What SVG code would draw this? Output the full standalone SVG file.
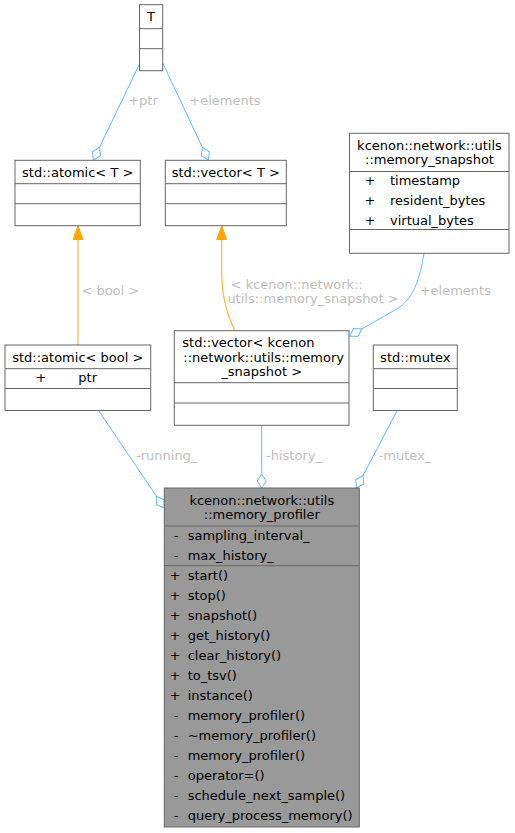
<svg xmlns="http://www.w3.org/2000/svg" width="515" height="833" viewBox="0 0 515 833">
<style>
text{font-family:"DejaVu Sans","Liberation Sans",sans-serif;font-size:13px;fill:#000}
.m{text-anchor:middle}
.lbl{fill:#bebebe;text-anchor:middle}
.box{fill:#fff;stroke:#666;stroke-width:1}
.main{fill:#999;stroke:#666;stroke-width:1}
.div{stroke:#666;stroke-width:1;fill:none}
.e{fill:none;stroke:#63b8ff;stroke-width:1}
.o{fill:none;stroke:#ffa500;stroke-width:1}
</style>
<defs>
<marker id="od" viewBox="0 0 16 11" markerWidth="16" markerHeight="11" refX="15" refY="5.5" orient="auto" markerUnits="userSpaceOnUse">
<path d="M1,5.5 L8,1 L15,5.5 L8,10 Z" fill="#fff" stroke="#63b8ff" stroke-width="1"/>
</marker>
<marker id="tri" viewBox="0 0 15 11" markerWidth="15" markerHeight="11" refX="14" refY="5.5" orient="auto" markerUnits="userSpaceOnUse">
<path d="M0.5,0.5 L14,5.5 L0.5,10.5 Z" fill="#ffa500" stroke="#ffa500" stroke-width="1"/>
</marker>
</defs>
<g id="connectors">
<path class="e" d="M139.5,64 L93.4,160" marker-end="url(#od)"/>
<path class="e" d="M162.7,63 L208.3,160" marker-end="url(#od)"/>
<path class="o" d="M78,345 L78,226" marker-end="url(#tri)"/>
<path class="o" d="M235,331 C226,312 221.7,295 221.7,270 L221.7,226" marker-end="url(#tri)"/>
<path class="e" d="M424,253 C420,280 413,297 400,307 C392,312 372,323 349.7,336" marker-end="url(#od)"/>
<path class="e" d="M99,411 L164.3,508" marker-end="url(#od)"/>
<path class="e" d="M261.7,425.3 L261.7,488" marker-end="url(#od)"/>
<path class="e" d="M397.3,410.3 L356.5,488" marker-end="url(#od)"/>
<text class="lbl" x="143" y="104.5">+ptr</text>
<text class="lbl" x="225" y="104.5">+elements</text>
<text class="lbl" x="110.3" y="295.2">&lt; bool &gt;</text>
<text class="lbl" x="296.7" y="288.5">&lt; kcenon::network::</text>
<text class="lbl" x="313" y="302.5">utils::memory_snapshot &gt;</text>
<text class="lbl" x="455.3" y="295.2">+elements</text>
<text class="lbl" x="166.7" y="460.2">-running_</text>
<text class="lbl" x="294" y="460.2">-history_</text>
<text class="lbl" x="405" y="460.2">-mutex_</text>
</g>
<g id="node-T">
<rect class="box" x="139.5" y="4.7" width="23.2" height="66"/>
<path class="div" d="M139.5,28.7 H162.7 M139.5,48.7 H162.7"/>
<text class="m" x="151.1" y="21.2">T</text>
</g>
<g id="node-atomic-T">
<rect class="box" x="15" y="160.3" width="125.3" height="65.4"/>
<path class="div" d="M15,183.7 H140.3 M15,203.7 H140.3"/>
<text class="m" x="77.7" y="177.2">std::atomic&lt; T &gt;</text>
</g>
<g id="node-vector-T">
<rect class="box" x="165.3" y="160.3" width="121" height="65.4"/>
<path class="div" d="M165.3,183.7 H286.3 M165.3,203.7 H286.3"/>
<text class="m" x="225.8" y="177.2">std::vector&lt; T &gt;</text>
</g>
<g id="node-memory-snapshot">
<rect class="box" x="349.5" y="133.3" width="159.5" height="120"/>
<path class="div" d="M349.5,171.5 H509 M349.5,229.5 H509"/>
<text class="m" x="429.5" y="149.5">kcenon::network::utils</text>
<text class="m" x="429.5" y="164">::memory_snapshot</text>
<text class="m" x="370" y="184.5">+</text><text x="390" y="184.5">timestamp</text>
<text class="m" x="370" y="204.5">+</text><text x="390" y="204.5">resident_bytes</text>
<text class="m" x="370" y="224.5">+</text><text x="390" y="224.5">virtual_bytes</text>
</g>
<g id="node-atomic-bool">
<rect class="box" x="5" y="345" width="145.7" height="65.5"/>
<path class="div" d="M5,368.7 H150.7 M5,388.5 H150.7"/>
<text class="m" x="77.8" y="361.8">std::atomic&lt; bool &gt;</text>
<text class="m" x="41" y="382.2">+</text><text x="78.3" y="382.2">ptr</text>
</g>
<g id="node-vector-snapshot">
<rect class="box" x="174.3" y="330.7" width="174.7" height="94.6"/>
<path class="div" d="M174.3,382.7 H349 M174.3,403 H349"/>
<text x="182.3" y="347.2">std::vector&lt; kcenon</text>
<text x="183.3" y="361.8">::network::utils::memory</text>
<text class="m" x="261.7" y="376.4">_snapshot &gt;</text>
</g>
<g id="node-mutex">
<rect class="box" x="373.3" y="345" width="84" height="65.5"/>
<path class="div" d="M373.3,368.7 H457.3 M373.3,388.5 H457.3"/>
<text class="m" x="415.3" y="361.8">std::mutex</text>
</g>
<g id="node-memory-profiler">
<rect class="main" x="164.3" y="488" width="195" height="339"/>
<path class="div" d="M164.3,526 H359.3 M164.3,565.7 H359.3"/>
<text class="m" x="261.8" y="504.5">kcenon::network::utils</text>
<text class="m" x="261.8" y="518.8">::memory_profiler</text>
<text class="m" x="176" y="539.5">-</text><text x="187.7" y="539.5">sampling_interval_</text>
<text class="m" x="176" y="559.5">-</text><text x="187.7" y="559.5">max_history_</text>
<text class="m" x="175" y="579.5">+</text><text x="187.7" y="579.5">start()</text>
<text class="m" x="175" y="599.5">+</text><text x="187.7" y="599.5">stop()</text>
<text class="m" x="175" y="619.5">+</text><text x="187.7" y="619.5">snapshot()</text>
<text class="m" x="175" y="639.5">+</text><text x="187.7" y="639.5">get_history()</text>
<text class="m" x="175" y="659.5">+</text><text x="187.7" y="659.5">clear_history()</text>
<text class="m" x="175" y="679.5">+</text><text x="187.7" y="679.5">to_tsv()</text>
<text class="m" x="175" y="699.5">+</text><text x="187.7" y="699.5">instance()</text>
<text class="m" x="176" y="719.5">-</text><text x="187.7" y="719.5">memory_profiler()</text>
<text class="m" x="176" y="739.5">-</text><text x="187.7" y="739.5">~memory_profiler()</text>
<text class="m" x="176" y="759.5">-</text><text x="187.7" y="759.5">memory_profiler()</text>
<text class="m" x="176" y="779.5">-</text><text x="187.7" y="779.5">operator=()</text>
<text class="m" x="176" y="799.5">-</text><text x="187.7" y="799.5">schedule_next_sample()</text>
<text class="m" x="176" y="819.5">-</text><text x="187.7" y="819.5">query_process_memory()</text>
</g>
</svg>
